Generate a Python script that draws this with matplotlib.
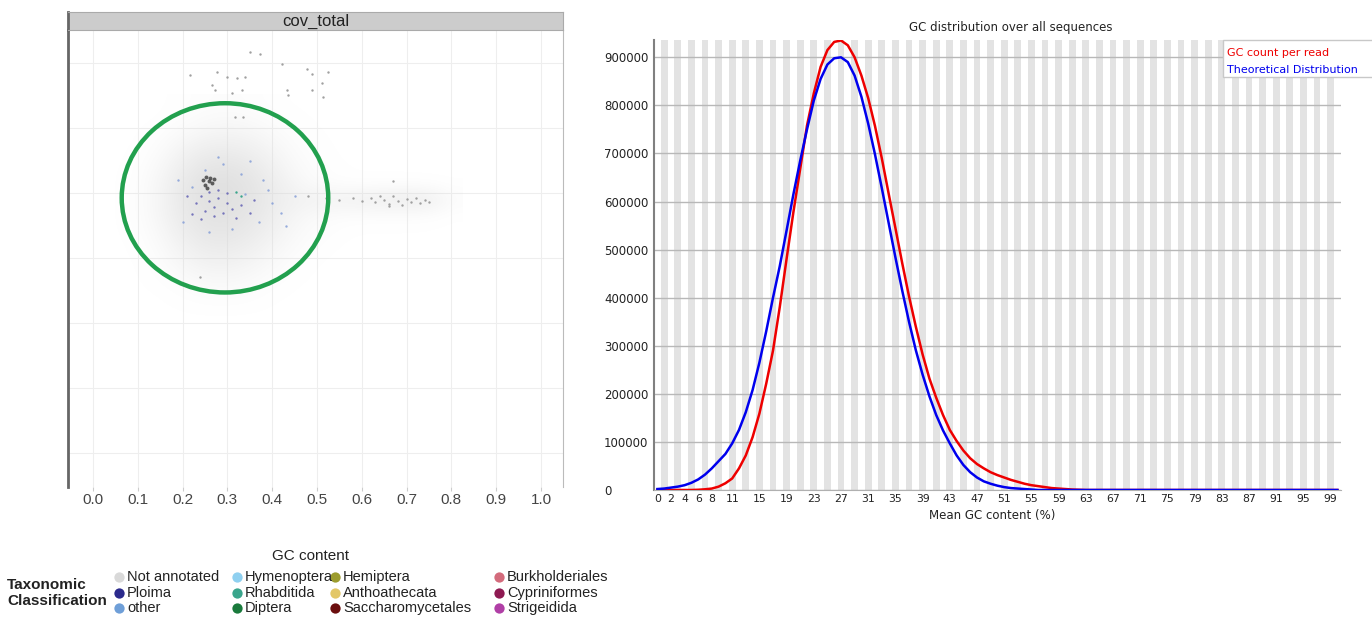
import matplotlib.pyplot as plt
import matplotlib.patches as mpatches
from matplotlib.colors import LinearSegmentedColormap
import numpy as np

W, H = 1372, 617

# ---------------- right panel: FastQC GC content ----------------
gc_pct = list(range(101))
# read counts per GC % (thousands)
gc_count_k = [0, 0, 0, 0, 0, 0, 0.5, 1.5, 3, 7,
              14, 24, 45, 72, 110, 159, 221, 290, 381, 481,
              578, 668, 758, 825, 880, 915, 932, 935, 925, 900,
              862, 815, 757, 690, 617, 545, 472, 403, 340, 282,
              232, 192, 156, 125, 102, 82, 66, 54, 45, 37,
              31, 26, 21, 17, 13, 10, 8, 6, 4, 3,
              2, 1, 0.5] + [0] * 38
theory_k = [2, 3, 5, 7, 10, 15, 22, 32, 45, 60,
            75, 97, 125, 162, 208, 265, 330, 400, 466, 540,
            615, 685, 750, 810, 855, 885, 898, 900, 890, 862,
            818, 762, 698, 628, 556, 484, 415, 350, 291, 240,
            195, 156, 124, 97, 72, 52, 37, 26, 18, 13,
            9, 6, 4, 3, 2, 1] + [0] * 45
gc_ticks = [0, 2, 4, 6, 8] + list(range(11, 100, 4))

# ---------------- left panel: blob plot ----------------
x_ticks = [round(0.1 * i, 1) for i in range(11)]
# background density of non annotated contigs (rows: cov 6.40 -> 3.15, cols: GC 0.05 -> 0.80)
haze_gc = [0.05, 0.80]
haze_cov = [3.15, 6.40]
haze = [
    [0, 0, 0, 0.02, 0.06, 0.08, 0.06, 0.02, 0, 0, 0, 0, 0, 0, 0, 0],
    [0, 0, 0, 0.06, 0.14, 0.18, 0.14, 0.06, 0.02, 0, 0, 0, 0, 0, 0, 0],
    [0, 0, 0.05, 0.18, 0.32, 0.38, 0.32, 0.18, 0.06, 0.01, 0, 0, 0, 0, 0, 0],
    [0, 0.01, 0.12, 0.38, 0.58, 0.62, 0.52, 0.32, 0.12, 0.03, 0, 0, 0, 0, 0, 0],
    [0, 0.03, 0.22, 0.55, 0.80, 0.85, 0.72, 0.46, 0.20, 0.06, 0.01, 0, 0, 0, 0, 0],
    [0, 0.05, 0.30, 0.68, 0.95, 1.00, 0.85, 0.58, 0.30, 0.12, 0.04, 0.02, 0.02, 0.02, 0.01, 0],
    [0, 0.05, 0.32, 0.72, 0.98, 1.00, 0.88, 0.62, 0.45, 0.40, 0.42, 0.48, 0.55, 0.60, 0.55, 0.12],
    [0, 0.05, 0.30, 0.66, 0.90, 0.92, 0.80, 0.55, 0.30, 0.15, 0.08, 0.06, 0.06, 0.06, 0.04, 0],
    [0, 0.03, 0.22, 0.55, 0.76, 0.80, 0.66, 0.44, 0.20, 0.08, 0.02, 0, 0, 0, 0, 0],
    [0, 0.01, 0.14, 0.40, 0.60, 0.62, 0.50, 0.30, 0.12, 0.03, 0, 0, 0, 0, 0, 0],
    [0, 0, 0.08, 0.25, 0.40, 0.42, 0.32, 0.16, 0.05, 0, 0, 0, 0, 0, 0, 0],
    [0, 0, 0.03, 0.11, 0.20, 0.22, 0.16, 0.06, 0.01, 0, 0, 0, 0, 0, 0, 0],
    [0, 0, 0, 0.03, 0.07, 0.08, 0.05, 0.01, 0, 0, 0, 0, 0, 0, 0, 0],
    [0] * 16,
]
# single contigs (GC, log coverage)
grey_gc = [0.350, 0.373, 0.422, 0.217, 0.277, 0.478, 0.525, 0.489, 0.299, 0.321, 0.339, 0.266,
           0.511, 0.272, 0.333, 0.433, 0.489, 0.310, 0.513, 0.435, 0.317, 0.335, 0.239, 0.670,
           0.48, 0.52, 0.55, 0.58, 0.60, 0.62, 0.63, 0.65, 0.66, 0.67, 0.68, 0.69, 0.70, 0.71,
           0.72, 0.73, 0.74, 0.66, 0.64, 0.75]
grey_cov = [7.17, 7.14, 6.99, 6.82, 6.86, 6.91, 6.86, 6.83, 6.79, 6.77, 6.79, 6.66,
            6.70, 6.59, 6.59, 6.59, 6.59, 6.54, 6.48, 6.51, 6.17, 6.17, 3.71, 5.19,
            4.95, 4.93, 4.90, 4.92, 4.88, 4.93, 4.86, 4.90, 4.84, 4.95, 4.88, 4.82, 4.91, 4.86,
            4.93, 4.85, 4.90, 4.80, 4.96, 4.87]
dark_gc = [0.246, 0.252, 0.258, 0.262, 0.250, 0.266, 0.255, 0.270]
dark_cov = [5.20, 5.25, 5.18, 5.23, 5.12, 5.15, 5.08, 5.22]
ploima_gc = [0.24, 0.26, 0.28, 0.30, 0.27, 0.25, 0.29, 0.31, 0.33, 0.23,
             0.26, 0.28, 0.22, 0.32, 0.35, 0.24, 0.30, 0.27, 0.36, 0.21]
ploima_cov = [4.95, 4.88, 4.92, 4.85, 4.78, 4.72, 4.70, 4.76, 4.82, 4.85,
              5.02, 5.05, 4.68, 4.62, 4.70, 4.60, 5.00, 4.65, 4.90, 4.95]
other_gc = [0.25, 0.29, 0.33, 0.38, 0.22, 0.34, 0.40, 0.37, 0.31, 0.26,
            0.20, 0.42, 0.28, 0.35, 0.19, 0.45, 0.43, 0.39]
other_cov = [5.35, 5.45, 5.30, 5.20, 5.10, 4.98, 4.85, 4.55, 4.45, 4.40,
             4.55, 4.70, 5.55, 5.50, 5.20, 4.95, 4.50, 5.05]
green_gc = [0.32, 0.33]
green_cov = [5.02, 4.96]

legend_cols = [
    [("Not annotated", "#d9d9d9"), ("Ploima", "#2b2a8c"), ("other", "#6f9fd8")],
    [("Hymenoptera", "#8fd0f0"), ("Rhabditida", "#3aa58c"), ("Diptera", "#1a7a3c")],
    [("Hemiptera", "#9c9c2e"), ("Anthoathecata", "#e3c767"), ("Saccharomycetales", "#6b0f0f")],
    [("Burkholderiales", "#d36b7c"), ("Cypriniformes", "#8e1a52"), ("Strigeidida", "#b03fa6")],
]


def rect(l, t, r, b):
    return [l / W, 1 - b / H, (r - l) / W, (b - t) / H]


fig = plt.figure(figsize=(W / 100, H / 100), dpi=100)

# ===== left panel =====
ax1 = fig.add_axes(rect(68, 30, 563, 487))
ax1.set_xlim(-25 / 448, 470 / 448)
ax1.set_ylim(0.48, 7.51)
for xv in x_ticks:
    ax1.axvline(xv, color='#eeeeee', lw=0.8, zorder=0)
for yv in range(1, 8):
    ax1.axhline(yv, color='#eeeeee', lw=0.8, zorder=0)

step_x = (haze_gc[1] - haze_gc[0]) / (len(haze[0]) - 1)
step_y = (haze_cov[1] - haze_cov[0]) / (len(haze) - 1)
haze_cmap = LinearSegmentedColormap.from_list(
    'haze', [(0.84, 0.84, 0.84, 0.0), (0.84, 0.84, 0.84, 0.75)])
ax1.imshow(np.array(haze), cmap=haze_cmap, vmin=0, vmax=1, interpolation='bicubic',
           extent=(haze_gc[0] - step_x / 2, haze_gc[1] + step_x / 2,
                   haze_cov[0] - step_y / 2, haze_cov[1] + step_y / 2),
           aspect='auto', origin='upper', zorder=1)

ax1.scatter(grey_gc, grey_cov, s=3, color='#a0a0a0', lw=0, zorder=2)
ax1.scatter(other_gc, other_cov, s=3, color='#7f9ad6', lw=0, alpha=0.8, zorder=3)
ax1.scatter(ploima_gc, ploima_cov, s=3, color='#5a58b0', lw=0, alpha=0.8, zorder=3)
ax1.scatter(green_gc, green_cov, s=3, color='#3aa58c', lw=0, zorder=3)
ax1.scatter(dark_gc, dark_cov, s=8, color='#3a3a3a', lw=0, alpha=0.8, zorder=4)

ax1.add_patch(mpatches.Ellipse((0.2946, 4.928), 0.461, 2.911, fill=False,
                               ec='#22a04e', lw=3.2, zorder=5))

ax1.set_xticks(x_ticks)
ax1.set_xticklabels([f'{v:.1f}' for v in x_ticks], fontsize=11,
                    family='Liberation Sans', color='#444444')
ax1.tick_params(axis='x', length=3, color='#cccccc', pad=1)
ax1.set_yticks([])
ax1.spines['left'].set_color('#666666')
ax1.spines['left'].set_linewidth(2)
ax1.spines['right'].set_color('#bbbbbb')
ax1.spines['top'].set_visible(False)
ax1.spines['bottom'].set_visible(False)

strip = fig.add_axes(rect(68, 12, 563, 30))
strip.set_facecolor('#cccccc')
strip.set_xticks([])
strip.set_yticks([])
for s in strip.spines.values():
    s.set_color('#aaaaaa')
strip.spines['left'].set_color('#666666')
strip.spines['left'].set_linewidth(2)
strip.text(0.5, 0.45, 'cov_total', ha='center', va='center', fontsize=12,
           family='Liberation Sans', color='#222222', transform=strip.transAxes)

# legend under the left panel
fig.text(310 / W, 1 - 556 / H, 'GC content', ha='center', va='center', fontsize=11,
         family='Liberation Sans', color='#222222')
fig.text(7 / W, 1 - 585 / H, 'Taxonomic', ha='left', va='center', fontsize=11,
         family='Liberation Sans', weight='bold', color='#222222')
fig.text(7 / W, 1 - 601 / H, 'Classification', ha='left', va='center', fontsize=11,
         family='Liberation Sans', weight='bold', color='#222222')
leg_ax = fig.add_axes([0, 0, 1, 1])
leg_ax.set_xlim(0, W)
leg_ax.set_ylim(H, 0)
leg_ax.axis('off')
col_x = [119, 237, 335, 499]
row_y = [577, 593, 608]
for cx, col in zip(col_x, legend_cols):
    for ry, (name, colr) in zip(row_y, col):
        leg_ax.scatter([cx], [ry], s=55, color=colr, lw=0)
        leg_ax.text(cx + 8, ry, name, ha='left', va='center', fontsize=10.5,
                    family='Liberation Sans', color='#222222')

# ===== right panel =====
ax2 = fig.add_axes(rect(654, 40, 1340.8, 490))
ax2.set_xlim(-0.5, 100.5)
ax2.set_ylim(0, 936000)
for c in range(1, 101, 2):
    ax2.axvspan(c - 0.5, c + 0.5, color='#e3e3e3', lw=0, zorder=0)
ax2.set_yticks(range(0, 900001, 100000))
ax2.yaxis.grid(True, color='#b8b8b8', lw=1)
ax2.plot(gc_pct, np.array(gc_count_k) * 1000, color='#ee0000', lw=1.8, zorder=3)
ax2.plot(gc_pct, np.array(theory_k) * 1000, color='#0000ee', lw=1.8, zorder=4)

ax2.set_xticks(gc_ticks)
ax2.set_xticklabels([str(v) for v in gc_ticks], fontsize=7.8, color='#222222')
ax2.set_yticklabels([str(v) for v in range(0, 900001, 100000)], fontsize=8.5, color='#222222')
ax2.tick_params(axis='x', length=0, pad=3)
ax2.tick_params(axis='y', length=0, pad=36)
for lab in ax2.get_yticklabels():
    lab.set_ha('left')
ax2.spines['left'].set_color('#808080')
ax2.spines['left'].set_linewidth(1.5)
ax2.spines['bottom'].set_color('#b0b0b0')
ax2.spines['top'].set_visible(False)
ax2.spines['right'].set_visible(False)

fig.text(1011 / W, 1 - 27 / H, 'GC distribution over all sequences', ha='center', va='center',
         fontsize=8.5, color='#222222')
fig.text(992 / W, 1 - 516 / H, 'Mean GC content (%)', ha='center', va='center',
         fontsize=8.5, color='#222222')

fig.patches.append(mpatches.Rectangle((1223 / W, 1 - 77 / H), (W - 1222) / W, 37 / H,
                                      transform=fig.transFigure, fc='white', ec='#c8c8c8',
                                      lw=1, zorder=5))
fig.text(1227 / W, 1 - 53 / H, 'GC count per read', ha='left', va='center', fontsize=8,
         color='#ee0000', zorder=6)
fig.text(1227 / W, 1 - 70 / H, 'Theoretical Distribution', ha='left', va='center', fontsize=8,
         color='#0000ee', zorder=6)

fig.savefig('out.png', dpi=100)
